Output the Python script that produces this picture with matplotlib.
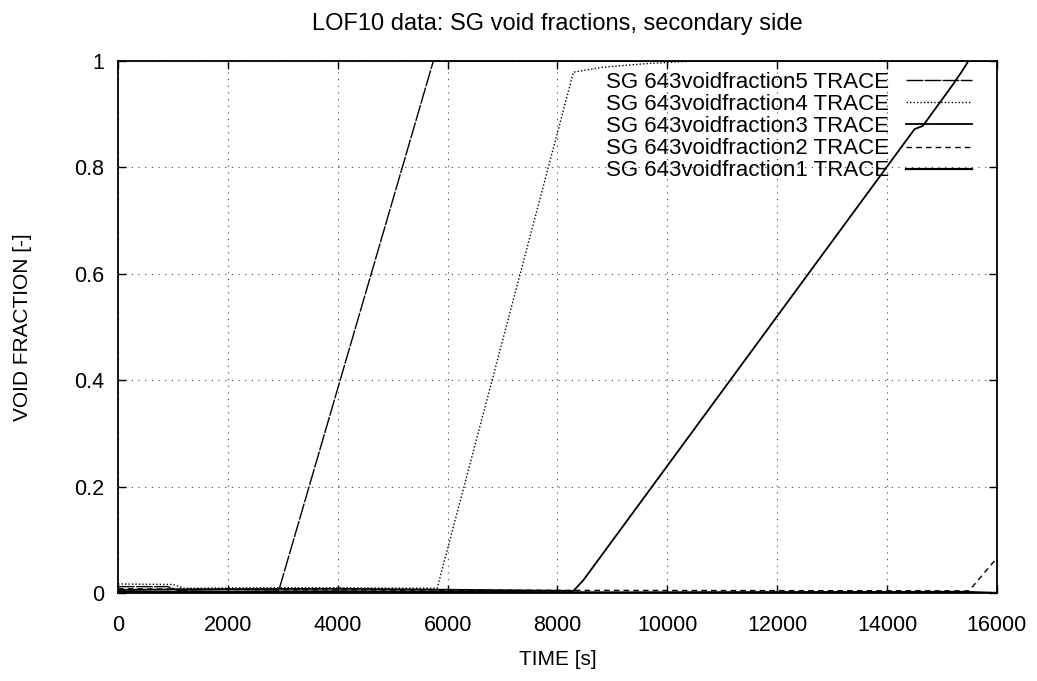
import numpy as np
import matplotlib
matplotlib.use("Agg")
import matplotlib.pyplot as plt

plt.rcParams['font.family'] = ['Liberation Sans', 'DejaVu Sans']

# time [s] / void fraction values
t5 = [0, 900, 1100, 2000, 2930, 5740, 16000]
vf5 = [0.012, 0.012, 0.005, 0.007, 0.006, 1.0, 1.0]

t4 = [0, 1000, 1200, 3000, 5810, 8290, 8800, 9600, 10500, 16000]
vf4 = [0.017, 0.016, 0.009, 0.010, 0.009, 0.979, 0.988, 0.995, 1.0, 1.0]

t3 = [0, 1500, 4000, 8290, 8470, 14500, 14650, 15200, 15390, 15480, 16000]
vf3 = [0.006, 0.007, 0.008, 0.004, 0.024, 0.872, 0.878, 0.956, 0.985, 1.0, 1.0]

t2 = [0, 3000, 8000, 15490, 16000]
vf2 = [0.008, 0.006, 0.005, 0.004, 0.066]

t1 = [0, 1000, 4000, 9000, 15400, 16000]
vf1 = [0.003, 0.002, 0.003, 0.001, 0.002, 0.0]

labels = ["SG 643voidfraction5 TRACE", "SG 643voidfraction4 TRACE",
          "SG 643voidfraction3 TRACE", "SG 643voidfraction2 TRACE",
          "SG 643voidfraction1 TRACE"]

fig = plt.figure(figsize=(10.37, 6.81), dpi=100)
ax = fig.add_axes([0.1138, 0.1292, 0.8476, 0.7812])

ax.plot(t5, vf5, color="black", lw=1.0, ls=(0, (12, 1)), label=labels[0])
ax.plot(t4, vf4, color="black", lw=1.0, ls=(0, (1, 1.5)), label=labels[1])
ax.plot(t3, vf3, color="black", lw=1.3, ls="-", label=labels[2])
ax.plot(t2, vf2, color="black", lw=1.0, ls=(0, (4, 3)), label=labels[3])
ax.plot(t1, vf1, color="black", lw=1.6, ls="-", label=labels[4])

ax.set_xlim(0, 16000)
ax.set_ylim(0, 1)
ax.set_xticks(np.arange(0, 16001, 2000))
ax.set_yticks([0, 0.2, 0.4, 0.6, 0.8, 1])
ax.set_yticklabels(["0", "0.2", "0.4", "0.6", "0.8", "1"])
ax.tick_params(direction="in", top=True, right=True, length=6, width=1,
               labelsize=15.5)
ax.tick_params(axis="x", pad=16)
ax.tick_params(axis="y", pad=10)
ax.grid(True, color="0.25", lw=0.8, ls=(0, (1, 5)))
for s in ax.spines.values():
    s.set_linewidth(1.3)

ax.set_title("LOF10 data: SG void fractions, secondary side", fontsize=17, pad=22)
ax.set_xlabel("TIME [s]", fontsize=15, labelpad=10)
ax.set_ylabel("VOID FRACTION [-]", fontsize=15, labelpad=30)

ax.legend(loc="upper right", markerfirst=False, frameon=False, fontsize=16,
          handlelength=3.0, handletextpad=0.75, labelspacing=0.05,
          borderaxespad=0.0, bbox_to_anchor=(0.982, 0.996))

fig.savefig("out.png", dpi=100)
